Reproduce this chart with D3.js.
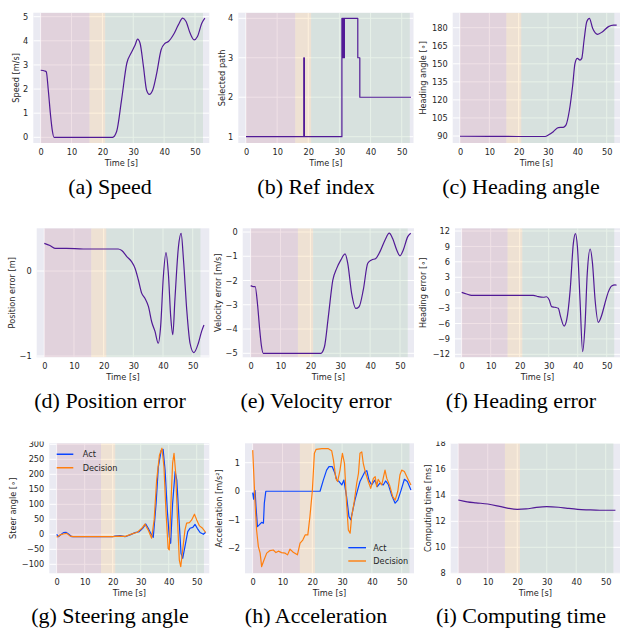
<!DOCTYPE html>
<html><head><meta charset="utf-8">
<script src="https://cdn.jsdelivr.net/npm/d3@7"></script>
<style>
html,body{margin:0;padding:0;background:#fff;}
svg{display:block;}
</style></head>
<body>
<svg id="chart" width="621" height="629"></svg>
<script>
// ---------------- DATA ----------------
const xTicks = [0, 10, 20, 30, 40, 50];
const phaseStarts = [0, 15.8, 20.9];
const phaseEnds = [15.8, 20.9, 52.6];

const speedT = [0, 1.3, 1.8, 2.5, 3.2, 3.8, 4.3, 10, 20, 23.3, 24.6, 26.2, 27.9, 29.3, 30.6, 31.4, 32.2, 33.3, 34.3, 35.2, 36.3, 37.6, 39.0, 40.3, 41.4, 43.0, 44.6, 46.0, 47.1, 48.4, 49.7, 50.8, 52.2, 53.2];
const speedV = [2.78, 2.75, 2.72, 1.9, 0.9, 0.25, 0, 0, 0, 0, 0.24, 1.55, 3.07, 3.49, 3.83, 4.07, 3.9, 2.93, 1.96, 1.78, 1.96, 2.66, 3.62, 3.9, 3.97, 4.25, 4.66, 4.94, 4.8, 4.32, 4.04, 4.18, 4.73, 4.94];
const speedTicks = [0, 1, 2, 3, 4, 5];

const refT = [0, 18.55, 18.75, 30.8, 31.05, 31.25, 31.45, 31.6, 35.9, 36.55, 53.0];
const refV = [1, 3, 1, 4, 3, 4, 3, 4, 3, 2, 2];
const refTicks = [1, 2, 3, 4];

const headT = [0, 10, 20, 29, 30.1, 31.8, 33.5, 35.2, 36.1, 37.3, 38.4, 39.2, 40.0, 40.9, 41.5, 42.3, 43.2, 44.1, 45.2, 46.9, 48.6, 50.6, 52.3, 53.4];
const headV = [89.8, 89.7, 89.6, 89.6, 90.8, 93.6, 97, 97.2, 99, 111.6, 132, 150.4, 154.5, 153, 154.5, 170, 185, 187.8, 179.5, 174.5, 176.7, 180.9, 182.2, 182.2];
const headTicks = [90, 105, 120, 135, 150, 165, 180];

const posErrT = [0, 1.9, 3.6, 7.5, 13.1, 18.8, 24.9, 26.1, 27.8, 29.4, 30.6, 31.7, 32.8, 33.9, 35.1, 36.2, 37.3, 38.4, 39.2, 40.1, 41.0, 41.8, 42.6, 43.3, 44.0, 45.2, 46.1, 46.9, 48.0, 49.1, 50.4, 51.9, 53.0, 53.8];
const posErrV = [0.325, 0.30, 0.267, 0.267, 0.259, 0.259, 0.259, 0.24, 0.17, 0.11, 0.03, -0.106, -0.26, -0.32, -0.42, -0.6, -0.71, -0.85, -0.65, -0.07, 0.216, -0.03, -0.54, -0.75, -0.34, 0.286, 0.443, 0.13, -0.46, -0.85, -0.96, -0.85, -0.71, -0.635];
const posErrTicks = [-1, 0];

const velErrT = [0, 0.9, 1.5, 2.3, 3.0, 3.6, 4.2, 10, 20, 23.5, 24.7, 26.0, 27.5, 28.8, 30.2, 31.6, 32.5, 33.8, 35.2, 36.3, 37.7, 39.2, 40.5, 41.9, 43.3, 45.0, 46.4, 47.5, 48.9, 50.0, 51.1, 52.6, 53.6];
const velErrV = [-2.21, -2.25, -2.25, -3.0, -4.0, -4.7, -5, -5, -5, -5, -4.73, -3.49, -1.98, -1.5, -1.15, -0.9, -1.29, -2.53, -3.15, -3.08, -2.39, -1.29, -1.15, -1.09, -0.81, -0.33, -0.05, -0.26, -0.74, -0.98, -0.74, -0.19, -0.05];
const velErrTicks = [-5, -4, -3, -2, -1, 0];

const headErrT = [0, 1.7, 3.4, 10.9, 24.7, 26.4, 28.2, 29.3, 30.2, 31.0, 32.2, 33.3, 34.1, 35.3, 36.2, 37.4, 38.5, 39.2, 39.9, 40.8, 41.7, 42.5, 43.3, 44.3, 45.1, 46.0, 47.1, 48.3, 49.4, 50.6, 51.7, 52.9, 53.4];
const headErrV = [0.06, -0.26, -0.52, -0.52, -0.52, -0.78, -0.9, -0.8, -1.43, -2.72, -2.85, -3.05, -4.67, -6.5, -5.3, 0.5, 9.6, 11.5, 8.95, -1.43, -11.5, -6.6, 3.76, 8.5, 5.7, -1.43, -5.77, -4.35, -2.07, 0.2, 1.3, 1.5, 1.43];
const headErrTicks = [-12, -9, -6, -3, 0, 3, 6, 9, 12];

const steerActT = [0, 0.6, 1.2, 2.4, 3.3, 4.2, 5.4, 10, 15, 20, 20.8, 22.6, 24.4, 26.2, 28, 29.5, 30.7, 31.8, 32.7, 33.6, 34.5, 35.5, 36.3, 37.3, 38.0, 38.7, 39.5, 40.2, 40.7, 41.4, 42.3, 42.9, 43.7, 44.4, 45.0, 45.8, 46.8, 47.6, 48.6, 49.4, 50.2, 51.2, 52.4, 53.2];
const steerAct = [0, -8, -3, 5.6, 6.7, 1, -8, -8, -8, -8, -5.6, -4.4, -8, -2, 5.6, 9, 20, 34.4, 20, 3, -10, 103, 225, 279, 283, 214, 81, -8, -30, 103, 209, 181, 48, -63, -80, -41, 9, 20, 23, 33, 20, 6, 0, 7];
const steerDecT = [0, 1.2, 2.4, 3.6, 4.8, 6, 10, 15, 20, 22, 24.5, 27.4, 28.8, 30.4, 31.5, 32.7, 33.9, 34.8, 35.7, 36.7, 37.6, 38.3, 39.0, 39.8, 40.2, 40.8, 41.4, 41.9, 42.5, 43.2, 43.8, 44.3, 45.0, 45.8, 46.4, 47.4, 48.2, 49.2, 50.0, 51.0, 52.1, 53.2];
const steerDec = [-10, -2, 1, 3, -6, -8, -8, -8, -8, -6, -7, 3, 7, 20, 34, 14, -13, 48, 181, 264, 287, 225, 81, -47, -52, 103, 237, 270, 203, 37, -86, -108, -52, 14, 37, 39, 48, 67, 48, 28, 20, 6];
const steerTicks = [-100, -50, 0, 50, 100, 150, 200, 250, 300];

const accActT = [0, 0.3, 0.6, 0.8, 1.1, 1.6, 2.2, 3.0, 3.6, 3.9, 4.4, 10, 20, 22.6, 23.7, 24.8, 25.6, 26.7, 27.6, 28.2, 29.0, 29.9, 30.6, 31.5, 32.3, 32.9, 33.6, 34.3, 35.2, 36.0, 36.8, 37.7, 38.3, 39.0, 39.9, 41.0, 41.8, 42.7, 43.8, 44.6, 45.5, 46.6, 47.8, 48.7, 49.8, 50.9, 51.9, 53.1];
const accAct = [-0.05, -0.28, 0, 0.02, -0.54, -1.24, -1.18, -1.09, -1.12, -0.42, 0, 0, 0, 0, 0.39, 0.74, 0.86, 0.86, 0.63, 0.39, 0.34, 0.22, 0.39, -0.19, -0.89, -1.0, -0.66, -0.31, 0.04, 0.34, 0.51, 0.69, 0.72, 0.39, 0.22, 0.39, 0.16, 0.28, 0.22, 0.36, 0.24, -0.13, -0.42, -0.31, 0.04, 0.42, 0.34, 0.04];
const accDecT = [0, 0.2, 0.8, 1.3, 1.9, 2.5, 3.0, 3.8, 4.7, 5.8, 6.9, 7.8, 8.6, 9.7, 10.9, 11.7, 12.5, 13.6, 15.0, 15.9, 16.8, 17.6, 18.5, 19.2, 20.0, 20.7, 21.3, 23.2, 25.4, 26.5, 27.1, 27.9, 28.5, 29.3, 30.1, 30.8, 31.5, 32.1, 32.7, 33.2, 34.0, 34.9, 35.5, 36.0, 36.6, 37.1, 37.9, 38.8, 39.6, 40.5, 41.1, 41.6, 42.1, 43.3, 44.4, 45.0, 45.9, 47.0, 47.8, 48.7, 49.4, 50.0, 50.9, 52.0, 53.1];
const accDec = [1.44, 0.98, -0.42, -1.36, -1.94, -2.17, -2.64, -2.41, -2.17, -2.08, -2.06, -2.15, -2.1, -2.15, -2.17, -2.23, -2.03, -2.14, -2.23, -1.82, -1.71, -1.53, -1.53, -0.89, 0, 1.33, 1.47, 1.49, 1.49, 1.42, 1.09, 0.45, 0.34, 0.74, 1.33, 0.98, -0.42, -1.36, -1.47, -0.89, -0.42, 0.28, 0.63, 1.33, 1.38, 0.98, 0.63, 0.34, 0.1, 0.45, 0.51, 0.16, 0.42, 0.22, 0.74, 0.45, 0.22, -0.19, -0.31, 0, 0.57, 0.74, 0.69, 0.45, 0.22];
const accTicks = [-2, -1, 0, 1];

const compT = [0, 3, 6, 10, 14, 17, 20, 23, 26, 30, 34, 37, 40.5, 44, 48, 53.3];
const compV = [13.64, 13.5, 13.42, 13.33, 13.15, 13.0, 12.92, 12.95, 13.05, 13.13, 13.08, 13.0, 12.92, 12.88, 12.85, 12.85];
const compTicks = [8, 10, 12, 14, 16, 18];

const legendLabels = ["Act", "Decision"];

// ---------------- STYLE / LAYOUT ----------------
const PURPLE = "#521a96", BLUE = "#0a45ff", ORANGE = "#ff7f0e";
const BG = "#eaeaf2";
const phaseColors = ["rgba(202,146,166,0.28)", "rgba(250,202,130,0.27)", "rgba(166,202,170,0.27)"];
const TXT = "#262626";
const FONT = "'DejaVu Sans', sans-serif";
const FS = 8.2;

const mono = d3.curveMonotoneX, lin = d3.curveLinear, step = d3.curveStepAfter;

const panels = [
  {rect:[33.3,12.7,209.3,143], xPx:[40.7,195], yRef:[[0,137.3],[5,16.7]], yTicks:speedTicks, ylab:"Speed [m/s]", ylabX:16,
   series:[{t:speedT,v:speedV,c:PURPLE,curve:mono}], cap:"(a) Speed", capX:110, capY:194},
  {rect:[238.3,12.7,413.5,143], xPx:[246,401.7], yRef:[[1,136.7],[4,18.3]], yTicks:refTicks, ylab:"Selected path", ylabX:221.7,
   series:[{t:refT,v:refV,c:PURPLE,curve:step}], cap:"(b) Ref index", capX:316, capY:194},
  {rect:[452.7,12.7,620,143], xPx:[460,606.7], yRef:[[90,136],[180,27.7]], yTicks:headTicks, ylab:"Heading angle [\u2218]", ylabX:423,
   series:[{t:headT,v:headV,c:PURPLE,curve:mono}], cap:"(c) Heading angle", capX:521, capY:194},
  {rect:[36.7,228.3,209.3,357.3], xPx:[44.3,192.7], yRef:[[0,271],[-1,356]], yTicks:posErrTicks, ylab:"Position error [m]", ylabX:12.3,
   series:[{t:posErrT,v:posErrV,c:PURPLE,curve:mono}], cap:"(d) Position error", capX:110, capY:408},
  {rect:[242.7,228.3,414,357.3], xPx:[250.7,400], yRef:[[0,232],[-5,353.3]], yTicks:velErrTicks, ylab:"Velocity error [m/s]", ylabX:218.3,
   series:[{t:velErrT,v:velErrV,c:PURPLE,curve:mono}], cap:"(e) Velocity error", capX:316, capY:408},
  {rect:[455,228.3,620,357.3], xPx:[461.7,606.7], yRef:[[12,231],[-12,354.3]], yTicks:headErrTicks, ylab:"Heading error [\u2218]", ylabX:423.3,
   series:[{t:headErrT,v:headErrV,c:PURPLE,curve:mono}], cap:"(f) Heading error", capX:521, capY:408},
  {rect:[49.3,443.3,209.3,573.3], xPx:[56.7,196.7], yRef:[[300,444.3],[-100,564.3]], yTicks:steerTicks, ylab:"Steer angle [\u2218]", ylabX:13.3,
   series:[{t:steerActT,v:steerAct,c:BLUE,curve:lin},{t:steerDecT,v:steerDec,c:ORANGE,curve:lin}],
   legend:{x1:56.7,x2:73.3,tx:82.7,ys:[454.3,467.7]}, cap:"(g) Steering angle", capX:110, capY:623, clipTop:441.5},
  {rect:[245,443.3,414,573.3], xPx:[252.7,401.7], yRef:[[1,462.7],[-2,548.3]], yTicks:accTicks, ylab:"Acceleration [m/s\u00b2]", ylabX:219.3,
   series:[{t:accActT,v:accAct,c:BLUE,curve:lin},{t:accDecT,v:accDec,c:ORANGE,curve:lin}],
   legend:{x1:348.3,x2:366,tx:373.3,ys:[547.7,561]}, cap:"(h) Acceleration", capX:316, capY:623, clipTop:441.5},
  {rect:[450.7,443.3,620,573.3], xPx:[458.3,605.7], yRef:[[8,573.3],[18,443.3]], yTicks:compTicks, ylab:"Computing time [ms]", ylabX:427.7,
   series:[{t:compT,v:compV,c:PURPLE,curve:mono}], cap:"(i) Computing time", capX:521, capY:623, clipTop:441.5}
];

const svg = d3.select("#chart");
const defs = svg.append("defs");

panels.forEach((p, i) => {
  const [L, T, R, B] = p.rect;
  const x = d3.scaleLinear().domain([0, 50]).range(p.xPx);
  const y = d3.scaleLinear().domain([p.yRef[0][0], p.yRef[1][0]]).range([p.yRef[0][1], p.yRef[1][1]]);

  defs.append("clipPath").attr("id", "clip" + i).append("rect")
    .attr("x", L).attr("y", T).attr("width", R - L).attr("height", B - T);
  let outer = svg.append("g");
  if (p.clipTop) {
    defs.append("clipPath").attr("id", "oclip" + i).append("rect")
      .attr("x", 0).attr("y", p.clipTop).attr("width", 621).attr("height", 629 - p.clipTop);
    outer.attr("clip-path", `url(#oclip${i})`);
  }
  const g = outer.append("g");

  g.append("rect").attr("x", L).attr("y", T).attr("width", R - L).attr("height", B - T).attr("fill", BG);

  const grid = g.append("g").attr("clip-path", `url(#clip${i})`);
  grid.selectAll("line.gx").data(xTicks).join("line")
    .attr("x1", d => x(d)).attr("x2", d => x(d)).attr("y1", T).attr("y2", B)
    .attr("stroke", "#fff").attr("stroke-width", 1);
  grid.selectAll("line.gy").data(p.yTicks).join("line").attr("class", "gy")
    .attr("y1", d => y(d)).attr("y2", d => y(d)).attr("x1", L).attr("x2", R)
    .attr("stroke", "#fff").attr("stroke-width", 1);

  grid.selectAll("rect.ph").data(phaseStarts.map((s, k) => [s, phaseEnds[k], phaseColors[k]])).join("rect")
    .attr("class", "ph")
    .attr("x", d => x(d[0])).attr("width", d => x(d[1]) - x(d[0]))
    .attr("y", T).attr("height", B - T).attr("fill", d => d[2]);

  p.series.forEach(s => {
    const n = Math.min(s.t.length, s.v.length);
    const pts = d3.range(n).map(k => [s.t[k], s.v[k]]);
    grid.append("path").datum(pts)
      .attr("d", d3.line().x(d => x(d[0])).y(d => y(d[1])).curve(s.curve))
      .attr("fill", "none").attr("stroke", s.c).attr("stroke-width", 1.2)
      .attr("stroke-linejoin", "round");
  });

  const ax = g.append("g").attr("transform", `translate(0,${B})`)
    .call(d3.axisBottom(x).tickValues(xTicks).tickSize(0).tickPadding(6.3));
  const ay = g.append("g").attr("transform", `translate(${L},0)`)
    .call(d3.axisLeft(y).tickValues(p.yTicks).tickSize(0).tickPadding(5)
      .tickFormat(d => d3.format("d")(d).replace("-", "\u2212")));
  [ax, ay].forEach(a => {
    a.select(".domain").remove();
    a.selectAll("text").attr("font-family", FONT).attr("font-size", FS).attr("fill", TXT);
  });

  g.append("text").attr("x", (L + R) / 2).attr("y", B + 22.5).attr("text-anchor", "middle")
    .attr("font-family", FONT).attr("font-size", FS).attr("fill", TXT).text("Time [s]");
  g.append("text").attr("transform", `translate(${p.ylabX},${(T + B) / 2}) rotate(-90)`)
    .attr("text-anchor", "middle").attr("dominant-baseline", "central")
    .attr("font-family", FONT).attr("font-size", FS).attr("fill", TXT).text(p.ylab);

  if (p.legend) {
    const lg = g.append("g");
    p.series.forEach((s, k) => {
      const yy = p.legend.ys[k];
      lg.append("line").attr("x1", p.legend.x1).attr("x2", p.legend.x2).attr("y1", yy).attr("y2", yy)
        .attr("stroke", s.c).attr("stroke-width", 1.4);
      lg.append("text").attr("x", p.legend.tx).attr("y", yy).attr("dominant-baseline", "central")
        .attr("font-family", FONT).attr("font-size", FS).attr("fill", TXT).text(legendLabels[k]);
    });
  }

  svg.append("text").attr("x", p.capX).attr("y", p.capY).attr("text-anchor", "middle")
    .attr("font-family", "'Liberation Serif', 'Times New Roman', serif").attr("font-size", 22)
    .attr("fill", "#000").text(p.cap);
});
</script>
</body></html>
